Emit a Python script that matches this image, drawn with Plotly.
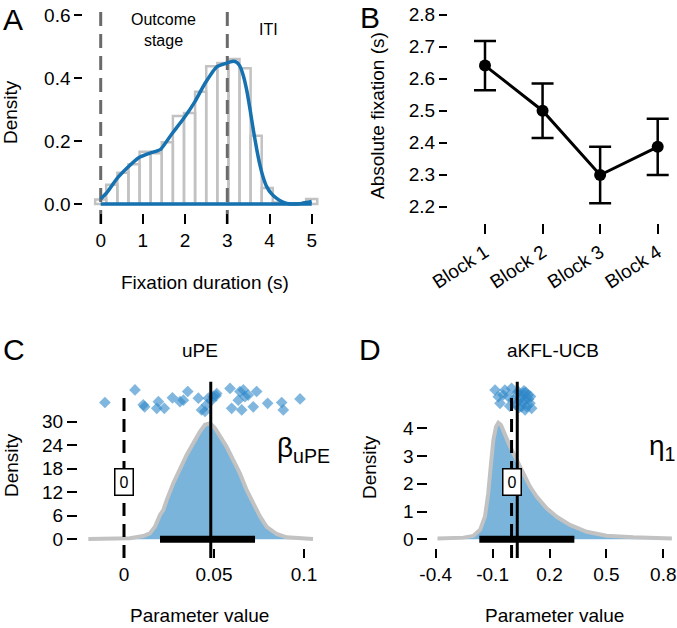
import plotly.graph_objects as go

W, H = 677, 628
FONT = "Liberation Sans, Arial, sans-serif"

# ---------------- Panel A data ----------------
hist_centers = [0, 0.263, 0.526, 0.789, 1.053, 1.316, 1.579, 1.842, 2.105, 2.368,
                2.632, 2.895, 3.158, 3.421, 3.684, 3.947, 4.211, 4.474, 4.737, 5.0]
hist_heights = [0.014, 0.061, 0.099, 0.126, 0.166, 0.161, 0.196, 0.280, 0.289, 0.357,
                0.438, 0.448, 0.461, 0.432, 0.217, 0.051, 0.005, 0.001, 0.002, 0.016]
hist_width = 0.263
kde_x = [0, 0.14, 0.38, 0.63, 0.9, 1.17, 1.42, 1.68, 1.96, 2.23, 2.47, 2.75, 2.99,
         3.07, 3.14, 3.22, 3.30, 3.38, 3.46, 3.54, 3.62, 3.70, 3.77, 3.85, 3.93,
         4.05, 4.17, 4.29, 4.41, 4.52, 4.64, 4.76, 4.88, 5.0]
kde_y = [0.016, 0.035, 0.08, 0.115, 0.147, 0.162, 0.174, 0.222, 0.271, 0.325, 0.383,
         0.436, 0.448, 0.452, 0.454, 0.451, 0.438, 0.408, 0.362, 0.300, 0.233, 0.172,
         0.126, 0.085, 0.056, 0.032, 0.018, 0.008, 0.002, 0.0, 0.0, 0.002,
         0.005, 0.008]
stage_bounds = [0, 3]
a_xticks = [0, 1, 2, 3, 4, 5]
a_yticks = [0.0, 0.2, 0.4, 0.6]

# ---------------- Panel B data ----------------
blocks = ["Block 1", "Block 2", "Block 3", "Block 4"]
block_pos = [1, 2, 3, 4]
fix_mean = [2.641, 2.500, 2.299, 2.387]
fix_err = [0.077, 0.085, 0.088, 0.088]
b_yticks = [2.2, 2.3, 2.4, 2.5, 2.6, 2.7, 2.8]

# ---------------- Panel C data ----------------
dc_x = [-0.0198, -0.01, 0.0033, 0.0107, 0.0144, 0.0172, 0.02, 0.0219, 0.0237, 0.0274,
        0.0311, 0.0348, 0.0385, 0.0422, 0.045, 0.0478, 0.0506, 0.0533, 0.057, 0.0607,
        0.0644, 0.0681, 0.0718, 0.0756, 0.0793, 0.0848, 0.0904, 0.097, 0.105]
dc_y = [0.05, 0.1, 0.25, 0.84, 1.5, 3.2, 6.2, 7.5, 10, 14.3, 18.1, 21.5, 24.5, 27.5,
        29.2, 29.6, 28.3, 26.2, 23.6, 20.2, 16.8, 12.6, 9.2, 5.8, 3.2, 1.35, 0.5,
        0.2, 0.05]
c_pts_x = [-0.0106, 0.0061, 0.0107, 0.0115, 0.0191, 0.0182, 0.0224, 0.0269, 0.0311,
           0.033, 0.0354, 0.0413, 0.0431, 0.045, 0.0459, 0.0469, 0.0487, 0.0496,
           0.0511, 0.0515, 0.0589, 0.0598, 0.0635, 0.0644, 0.0654, 0.0663, 0.0672,
           0.069, 0.0718, 0.0737, 0.0798, 0.0876, 0.0885, 0.0978]
c_pts_y = [34.9, 38.1, 34.3, 33.8, 35.1, 33.4, 33.4, 36.1, 35.1, 35.5, 37.7, 36.0,
           33.0, 32.6, 34.3, 36.0, 35.5, 36.4, 36.6, 37.2, 38.5, 33.4, 35.5, 37.7,
           33.0, 38.1, 36.4, 36.8, 33.8, 37.7, 34.7, 34.9, 33.0, 35.8]
c_hdi = [0.02, 0.0728]
c_mean = 0.0482
c_line_top = 40.2
c_dash_top = 36.8
c_zero_label_y = 14.7
c_yticks = [0, 6, 12, 18, 24, 30]
c_xticks = [0, 0.05, 0.1]
c_xticktext = ["0", "0.05", "0.1"]

# ---------------- Panel D data ----------------
dd_x = [-0.39, -0.30, -0.254, -0.202, -0.166, -0.14, -0.123, -0.110, -0.096, -0.082,
        -0.070, -0.056, -0.035, -0.008, 0.027, 0.062, 0.097, 0.132, 0.185, 0.238,
        0.308, 0.396, 0.501, 0.642, 0.845]
dd_y = [0.03, 0.04, 0.06, 0.12, 0.34, 0.82, 1.66, 2.62, 3.58, 4.06, 4.20, 4.12, 3.76,
        3.34, 2.86, 2.38, 1.90, 1.54, 1.12, 0.81, 0.52, 0.27, 0.13, 0.07, 0.03]
d_pts_x = [-0.087, -0.035, -0.070, -0.061, -0.017, 0.0, 0.009, 0.062, 0.071, 0.080,
           0.088, 0.097, 0.053, 0.044, 0.106, 0.071, 0.035, -0.045, 0.02, 0.05,
           0.075, 0.09, 0.06, 0.04, -0.01, 0.1, 0.065, 0.03]
d_pts_y = [5.38, 5.38, 5.14, 4.90, 5.14, 5.44, 5.02, 5.26, 5.02, 4.78, 5.2, 4.90,
           4.78, 5.08, 4.72, 4.66, 5.32, 5.2, 4.85, 5.1, 5.3, 5.05, 4.95, 4.75, 4.8,
           5.15, 5.35, 5.25]
d_hdi = [-0.17, 0.331]
d_mean = 0.03
d_line_top = 5.68
d_dash_top = 5.2
d_zero_label_y = 2.07
d_yticks = [0, 1, 2, 3, 4]
d_xticks = [-0.4, -0.1, 0.2, 0.5, 0.8]
d_xticktext = ["-0.4", "-0.1", "0.2", "0.5", "0.8"]

# ---------------- colours ----------------
BLUE = "#1671b0"
FILL = "#7ab4da"
GREY = "#c2c2c2"
PT = "rgba(45,135,200,0.6)"


def fx(px):
    return px / W


def fy(py):
    return 1 - py / H


def rng(p0, p1, ref1, ref2):
    """value range covering pixels p0..p1 given two (value, pixel) anchors"""
    (v1, q1), (v2, q2) = ref1, ref2
    s = (q2 - q1) / (v2 - v1)
    a = v1 + (p0 - q1) / s
    b = v1 + (p1 - q1) / s
    return [min(a, b), max(a, b)]


# pixel layout of each panel
A_x = (83.3, 325); A_y = (7, 224); A_xaxis_py = 213
B_x = (448, 677); B_y = (5, 223)
C_x = (78, 335); C_y = (375, 558); C_xaxis_py = 548
D_x = (428.3, 677); D_y = (375, 558); D_xaxis_py = 548

A_xr = rng(*A_x, (0, 100.7), (5, 311.7))
A_yr = rng(*A_y, (0, 204), (0.6, 15.3))
B_xr = rng(*B_x, (1, 485), (4, 657.7))
B_yr = rng(*B_y, (2.2, 206.7), (2.8, 14.7))
C_xr = rng(*C_x, (0, 124), (0.1, 304))
C_yr = rng(*C_y, (0, 539.3), (30, 421.7))
D_xr = rng(*D_x, (-0.4, 435.7), (0.8, 663.3))
D_yr = rng(*D_y, (0, 539.3), (4, 428.3))

fig = go.Figure()

# ---- Panel A ----
fig.add_trace(go.Bar(x=hist_centers, y=hist_heights, width=hist_width,
                     marker=dict(color="rgba(255,255,255,0)",
                                 line=dict(color=GREY, width=2.5)),
                     xaxis="x", yaxis="y", hoverinfo="skip"))
for b in stage_bounds:
    fig.add_trace(go.Scatter(x=[b, b], y=[A_yr[0], A_yr[1]], mode="lines",
                             line=dict(color="#6a6a6a", width=3, dash="14px,8px"),
                             xaxis="x", yaxis="y", hoverinfo="skip"))
fig.add_trace(go.Scatter(x=[kde_x[0], kde_x[-1]], y=[0, 0], mode="lines",
                         line=dict(color=BLUE, width=3.5),
                         xaxis="x", yaxis="y", hoverinfo="skip"))
fig.add_trace(go.Scatter(x=kde_x, y=kde_y, mode="lines",
                         line=dict(color=BLUE, width=3.5, shape="spline", smoothing=0.5),
                         xaxis="x", yaxis="y", hoverinfo="skip"))

# ---- Panel B ----
fig.add_trace(go.Scatter(x=block_pos, y=fix_mean, mode="lines+markers",
                         line=dict(color="black", width=3),
                         marker=dict(color="black", size=12),
                         error_y=dict(type="data", array=fix_err, color="black",
                                      thickness=2.5, width=11),
                         xaxis="x2", yaxis="y2", hoverinfo="skip"))


def posterior_panel(xa, ya, dx, dy, px, py, hdi, mean, top, dash_top, yr):
    fig.add_trace(go.Scatter(x=dx, y=dy, mode="lines", fill="tozeroy",
                             fillcolor=FILL, line=dict(color=GREY, width=4),
                             xaxis=xa, yaxis=ya, hoverinfo="skip"))
    fig.add_trace(go.Scatter(x=hdi, y=[0, 0], mode="lines",
                             line=dict(color="black", width=7),
                             xaxis=xa, yaxis=ya, hoverinfo="skip"))
    fig.add_trace(go.Scatter(x=px, y=py, mode="markers",
                             marker=dict(symbol="diamond", size=9, color=PT,
                                         line=dict(width=0)),
                             xaxis=xa, yaxis=ya, hoverinfo="skip"))
    fig.add_trace(go.Scatter(x=[0, 0], y=[yr[0], dash_top], mode="lines",
                             line=dict(color="black", width=3, dash="13px,8px"),
                             xaxis=xa, yaxis=ya, hoverinfo="skip"))
    fig.add_trace(go.Scatter(x=[mean, mean], y=[yr[0], top], mode="lines",
                             line=dict(color="black", width=3),
                             xaxis=xa, yaxis=ya, hoverinfo="skip"))


posterior_panel("x3", "y3", dc_x, dc_y, c_pts_x, c_pts_y, c_hdi, c_mean,
                c_line_top, c_dash_top, C_yr)
posterior_panel("x4", "y4", dd_x, dd_y, d_pts_x, d_pts_y, d_hdi, d_mean,
                d_line_top, d_dash_top, D_yr)

tickfont = dict(family=FONT, size=19, color="black")
common = dict(showgrid=False, zeroline=False, showline=False, ticks="outside",
              tickwidth=2, tickcolor="black", tickfont=tickfont, fixedrange=True,
              automargin=False)

fig.update_layout(
    width=W, height=H, margin=dict(l=0, r=0, t=0, b=0, autoexpand=False),
    paper_bgcolor="white", plot_bgcolor="white", showlegend=False,
    font=dict(family=FONT, color="black"),
    xaxis=dict(domain=[fx(A_x[0]), fx(A_x[1])], range=A_xr, anchor="free",
               position=fy(A_xaxis_py), tickvals=a_xticks, ticklen=10, **common),
    yaxis=dict(domain=[fy(A_y[1]), fy(A_y[0])], range=A_yr, anchor="x",
               tickvals=a_yticks, tickformat=".1f", ticklen=8, **common),
    xaxis2=dict(domain=[fx(B_x[0]), fx(B_x[1])], range=B_xr, anchor="y2",
                tickvals=block_pos, ticktext=blocks, tickangle=-33, ticklen=10, **common),
    yaxis2=dict(domain=[fy(B_y[1]), fy(B_y[0])], range=B_yr, anchor="x2",
                tickvals=b_yticks, tickformat=".1f", ticklen=8, **common),
    xaxis3=dict(domain=[fx(C_x[0]), fx(C_x[1])], range=C_xr, anchor="free",
                position=fy(C_xaxis_py), tickvals=c_xticks, ticktext=c_xticktext,
                ticklen=9, **common),
    yaxis3=dict(domain=[fy(C_y[1]), fy(C_y[0])], range=C_yr, anchor="x3",
                tickvals=c_yticks, ticklen=10, **common),
    xaxis4=dict(domain=[fx(D_x[0]), fx(D_x[1])], range=D_xr, anchor="free",
                position=fy(D_xaxis_py), tickvals=d_xticks, ticktext=d_xticktext,
                ticklen=9, **common),
    yaxis4=dict(domain=[fy(D_y[1]), fy(D_y[0])], range=D_yr, anchor="x4",
                tickvals=d_yticks, ticklen=10, **common),
)


def ann(text, px, py, size=19, angle=0, **kw):
    fig.add_annotation(text=text, x=fx(px), y=fy(py), xref="paper", yref="paper",
                       showarrow=False, textangle=angle, xanchor="center",
                       yanchor="middle", font=dict(family=FONT, size=size, color="black"),
                       **kw)


# panel letters
ann("A", 13, 19, size=30)
ann("B", 370, 17, size=30)
ann("C", 14, 349, size=30)
ann("D", 370, 349, size=30)

# axis titles
ann("Density", 11, 112, angle=-90)
ann("Fixation duration (s)", 205, 282)
ann("Absolute fixation (s)", 378, 116, angle=-90)
ann("Density", 11, 465, angle=-90)
ann("Parameter value", 199, 615)
ann("Density", 369, 467, angle=-90)
ann("Parameter value", 554, 615)

# panel titles
ann("uPE", 200, 350)
ann("aKFL-UCB", 553, 350)

# stage labels
ann("Outcome<br>stage", 163, 30, size=16)
ann("ITI", 268, 30, size=16)

# parameter symbols
ann("β<sub>uPE</sub>", 303, 450, size=28)
ann("η<sub>1</sub>", 662, 447, size=28)

# boxed zero labels
for xa, ya, yv in (("x3", "y3", c_zero_label_y), ("x4", "y4", d_zero_label_y)):
    fig.add_annotation(text="0", x=0, y=yv, xref=xa, yref=ya, showarrow=False,
                       font=dict(family=FONT, size=16, color="black"),
                       bgcolor="white", bordercolor="black", borderwidth=1.5,
                       borderpad=4)

fig.write_html(
    "out.html",
    config={"displayModeBar": False, "staticPlot": True},
    post_script="document.body.style.margin='0';document.body.style.overflow='hidden';",
)
